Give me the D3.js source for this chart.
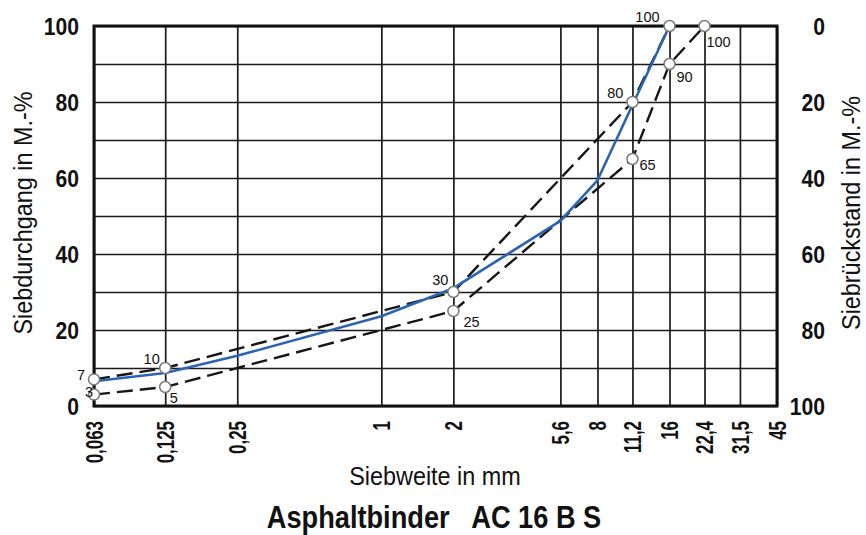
<!DOCTYPE html>
<html>
<head>
<meta charset="utf-8">
<script src="https://cdn.jsdelivr.net/npm/d3@7"></script>
<style>
  html, body { margin: 0; padding: 0; background: #fff; }
  svg { display: block; }
  text { font-family: "Liberation Sans", Arial, sans-serif; fill: #111; }
</style>
</head>
<body>
<svg id="chart" width="866" height="535"></svg>
<script>
// Sieve sizes (mm) and their printed labels
const sieves = [0.063, 0.125, 0.25, 1, 2, 5.6, 8, 11.2, 16, 22.4, 31.5, 45];
const sieveLabels = ["0,063", "0,125", "0,25", "1", "2", "5,6", "8", "11,2", "16", "22,4", "31,5", "45"];

// Passing-percentage ticks (left) and residue ticks (right)
const passTicks = [0, 20, 40, 60, 80, 100];
const residueTicks = [0, 20, 40, 60, 80, 100];
const gridTicks = [0, 10, 20, 30, 40, 50, 60, 70, 80, 90, 100];

// Upper grading limit
const upperSieves = [0.063, 0.125, 2, 11.2, 16];
const upperValues = [7, 10, 30, 80, 100];

// Lower grading limit
const lowerSieves = [0.063, 0.125, 2, 11.2, 16, 22.4];
const lowerValues = [3, 5, 25, 65, 90, 100];

// Grading curve of the mix
const mixSieves = [0.063, 0.125, 0.25, 1, 2, 5.6, 8, 11.2, 16];
const mixValues = [6.5, 8.7, 13.2, 23.6, 31, 48.7, 59.4, 79.2, 100];

// Value-label placement next to the limit points: [dx, dy, anchor]
const upperLabelPos = [[-9, 1, "end"], [-5.5, -4, "end"], [-5, -7, "end"], [-9, -4, "end"], [-10, -4, "end"]];
const lowerLabelPos = [[-1, 2, "end"], [4.5, 15.5, "start"], [10, 16, "start"], [7, 11, "start"], [7, 18, "start"], [2, 21, "start"]];

const svg = d3.select("#chart");
const plotLeft = 94, plotRight = 777, plotTop = 26, plotBottom = 406;
const w = plotRight - plotLeft, h = plotBottom - plotTop;

const x = d3.scaleLog().domain([0.063, 45]).range([0, w]);
const y = d3.scaleLinear().domain([0, 100]).range([h, 0]);
const yRes = d3.scaleLinear().domain([0, 100]).range([0, h]);

const g = svg.append("g").attr("transform", `translate(${plotLeft},${plotTop})`);

// Horizontal grid
g.append("g")
  .call(d3.axisLeft(y).tickValues(gridTicks).tickSize(-w).tickFormat(""))
  .call(a => a.select(".domain").remove())
  .call(a => a.selectAll("line").attr("stroke", "#1a1a1a").attr("stroke-width", 1.7));

// Vertical grid + rotated sieve labels
g.append("g")
  .attr("transform", `translate(0,${h})`)
  .call(d3.axisBottom(x).tickValues(sieves).tickSize(-h)
        .tickFormat((d, i) => sieveLabels[i]))
  .call(a => a.select(".domain").remove())
  .call(a => a.selectAll("line").attr("stroke", "#1a1a1a").attr("stroke-width", 1.7))
  .call(a => a.selectAll("text")
        .attr("x", 0).attr("y", 0).attr("dy", "0.36em")
        .attr("text-anchor", "end")
        .attr("transform", "translate(0,15) rotate(-90) scale(0.72,1)")
        .style("font-size", "23.5px").style("font-weight", "bold")
        .style("font-family", "'Liberation Sans', Arial, sans-serif")
        .attr("fill", "#111"));

// Left axis: Siebdurchgang
g.append("g")
  .call(d3.axisLeft(y).tickValues(passTicks).tickSize(0))
  .call(a => a.select(".domain").remove())
  .call(a => a.selectAll("text")
        .attr("x", 0).attr("dy", "0.36em")
        .attr("transform", "translate(-15,0) scale(0.88,1)")
        .attr("text-anchor", "end")
        .style("font-size", "24px").style("font-weight", "bold")
        .style("font-family", "'Liberation Sans', Arial, sans-serif")
        .attr("fill", "#111"));

// Right axis: Siebrückstand
g.append("g")
  .attr("transform", `translate(${w},0)`)
  .call(d3.axisRight(yRes).tickValues(residueTicks).tickSize(0))
  .call(a => a.select(".domain").remove())
  .call(a => a.selectAll("text")
        .attr("x", 0).attr("dy", "0.36em")
        .attr("transform", "translate(48,0) scale(0.88,1)")
        .attr("text-anchor", "end")
        .style("font-size", "24px").style("font-weight", "bold")
        .style("font-family", "'Liberation Sans', Arial, sans-serif")
        .attr("fill", "#111"));

// Frame
g.append("rect")
  .attr("x", 0).attr("y", 0).attr("width", w).attr("height", h)
  .attr("fill", "none").attr("stroke", "#111").attr("stroke-width", 3);

const line = d3.line().x(d => x(d[0])).y(d => y(d[1]));
const upper = upperSieves.map((s, i) => [s, upperValues[i]]);
const lower = lowerSieves.map((s, i) => [s, lowerValues[i]]);
const mix = mixSieves.map((s, i) => [s, mixValues[i]]);

// Grading limits (dashed)
[upper, lower].forEach(pts => {
  g.append("path").datum(pts)
    .attr("d", line)
    .attr("fill", "none").attr("stroke", "#161616")
    .attr("stroke-width", 2.4).attr("stroke-dasharray", "16,7");
});

// Mix curve
g.append("path").datum(mix)
  .attr("d", line)
  .attr("fill", "none").attr("stroke", "#2a64b3")
  .attr("stroke-width", 2.6).attr("stroke-linejoin", "round");

// Limit points and their values
[[upper, upperLabelPos], [lower, lowerLabelPos]].forEach(([pts, pos]) => {
  g.selectAll(null).data(pts).enter().append("circle")
    .attr("cx", d => x(d[0])).attr("cy", d => y(d[1])).attr("r", 5.5)
    .attr("fill", "#fff").attr("stroke", "#7a7a7a").attr("stroke-width", 1.5);
  g.selectAll(null).data(pts).enter().append("text")
    .attr("x", (d, i) => x(d[0]) + pos[i][0])
    .attr("y", (d, i) => y(d[1]) + pos[i][1])
    .attr("text-anchor", (d, i) => pos[i][2])
    .style("font-size", "14.5px")
    .attr("fill", "#1a1a1a")
    .text(d => d[1]);
});

// Axis titles
svg.append("text")
  .attr("transform", "translate(32,213) rotate(-90) scale(0.9,1)")
  .attr("text-anchor", "middle")
  .style("font-size", "26px")
  .text("Siebdurchgang in M.-%");

svg.append("text")
  .attr("transform", "translate(860,213) rotate(-90) scale(0.9,1)")
  .attr("text-anchor", "middle")
  .style("font-size", "26px")
  .text("Siebrückstand in M.-%");

svg.append("text")
  .attr("transform", "translate(435,485) scale(0.9,1)")
  .attr("text-anchor", "middle")
  .style("font-size", "26px")
  .text("Siebweite in mm");

// Chart title
svg.append("text")
  .attr("transform", "translate(434,528) scale(0.85,1)")
  .attr("text-anchor", "middle")
  .style("font-size", "32px").style("font-weight", "bold")
  .style("white-space", "pre")
  .text("Asphaltbinder   AC 16 B S");
</script>
</body>
</html>
